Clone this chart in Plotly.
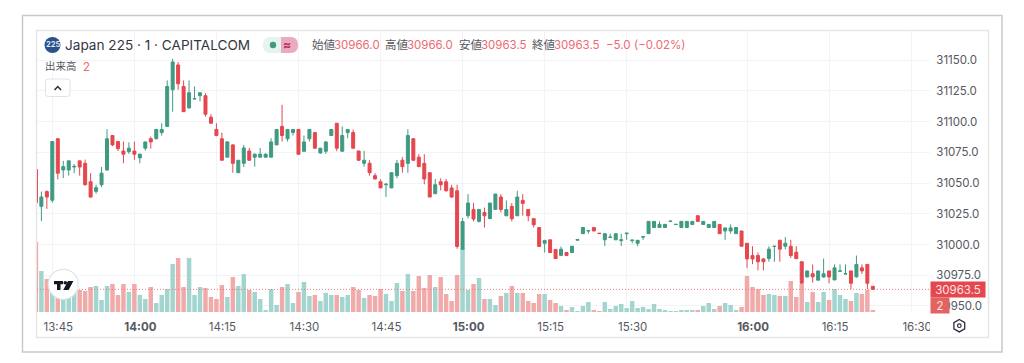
import plotly.graph_objects as go

opens = [31061,31031,31043,31036,31086,31060.6,31060.6,31063,31068,31066,
31051,31043.2,31048.6,31060.6,31088.6,31083.7,31076,31075.5,31076,31070.4,
31078.3,31086,31086,31091,31096,31125.8,31146,31128.5,31111,31118.4,
31121,31121,31103.5,31093.5,31086,31071,31081,31058.4,31066,31076,
31071,31071,31071,31071,31081,31096,31086,31091,31093.5,31075.8,
31086,31091,31074.5,31075.8,31088.6,31098.6,31075.8,31091,31091,31076,
31066,31066,31056,31051,31048.6,31046,31056,31068.5,31066,31086,
31071,31066,31058.4,31041.3,31051,31051,31046,31043.7,30996.2,31023.4,
31028.5,31018.8,31026,31021,31028.5,31038.6,31023.4,31031,31023.4,31035.9,
31028.5,31021,31013.8,31001,31003.8,30996,30991,30993.5,30993.5,31003.5,
31008.8,31011,31013.8,31009.2,31003.8,31005.8,31003.8,31003.2,31008.8,31003.2,
31001,31006,31008.8,31013.8,31013.8,31013.8,31018.7,31016.2,31013.8,31013.8,
31016.2,31023.4,31016.3,31013.8,31013.8,31016.3,31011,31011,31008.8,31011,
31001,30991,30991,30988.3,30988.6,30998.4,31003.5,30998.6,30998.6,30993.7,
30986,30973.6,30976.2,30971,30973.6,30978.5,30971.2,30978.3,30976,30978.5,
30973.7,30981,30983.8,30966]
closes = [31034,31038.6,31038.6,31083.7,31058,31063.3,31068,31063.5,31063,31048.6,
31038.6,31046.2,31058,31086,31081,31078,31073.4,31078.3,31073.4,31073.4,
31083.4,31083.4,31093.5,31093.5,31128.5,31148.4,31130.7,31108,31123.4,31118.6,
31123.4,31106,31098.6,31088.6,31068.5,31083.4,31066,31068.5,31078.5,31068.5,
31073.4,31073.4,31073.4,31083.4,31093.5,31088.6,31093.5,31093.5,31073.4,31083.4,
31093.5,31078.3,31078.3,31083.4,31093.5,31078.3,31088.6,31093.5,31078.3,31068.5,
31068.5,31058.4,31053.3,31046,31049,31058.4,31066,31063.3,31088.6,31068.5,
31063.3,31053.3,31038.6,31048.6,31048.6,31043.7,31038.6,30998.4,31018.7,31033.7,
31020.7,31028.5,31023.4,31033.7,31041,31028.5,31028.5,31021,31038.6,31033.4,
31023.4,31016,30998.4,31003.2,30993.5,30988.6,30996.2,30991,30998.6,31004,
31013.8,31011.3,31011,31008.9,31008.8,31006,31008.8,31003.8,31009.2,31003.6,
31003.4,31006.3,31018.8,31018.8,31016.4,31016.4,31019,31016.4,31018.8,31018.8,
31018.8,31018.8,31018.8,31016.3,31018.8,31008.8,31013.5,31013.5,31013.8,30998.6,
30988.3,30988.3,30986,30986,30996.2,30998.6,30996.2,31001,30991,30988.6,
30968.5,30978.5,30973.7,30978.5,30976.2,30973.6,30981,30978.5,30976.2,30968.5,
30983.8,30978.5,30968.5,30963.5]
highs = [31061,31043,31044,31083.7,31086,31068,31068.2,31065.5,31068,31069,
31058,31048.6,31063,31093.7,31089,31084,31083.7,31083,31083.7,31074,
31083.5,31087.8,31094,31098.6,31133.4,31151,31148.4,31133.4,31133.4,31128.5,
31123.5,31123,31106,31098.6,31091,31084,31081.5,31068.6,31081,31078.5,
31074,31078.5,31074,31086.4,31094,31113.6,31094,31094,31094,31088.6,
31094,31091.5,31078.5,31084,31094,31098.7,31096,31094,31093.5,31076.2,
31076,31068.5,31058,31053,31050,31058.5,31068.7,31071,31093.7,31086.4,
31073.4,31073.4,31058.5,31053.3,31053.8,31053.3,31048.6,31048.6,31021.5,31041,
31033.7,31028.6,31030,31033.8,31041.1,31041,31035.9,31033.7,31043.7,31041,
31028.6,31021,31013.9,31003.8,31003.9,30996.1,30998.4,30993.6,30998.7,31004.1,
31013.9,31011.5,31013.9,31009.3,31008.9,31008.8,31008.9,31008.8,31009.3,31003.7,
31003.5,31006.4,31018.9,31018.9,31018.8,31016.5,31019.1,31016.5,31018.9,31018.9,
31018.9,31023.5,31018.9,31016.4,31018.9,31016.4,31013.6,31016.3,31013.9,31011.1,
31001.1,30998.6,30993.5,30988.5,30998.6,30998.7,31003.6,31006,31003.8,30998.6,
30986.1,30978.6,30983.8,30978.6,30988.6,30978.6,30983.8,30983.8,30983.8,30978.6,
30991,30983.8,30983.9,30966]
lows = [31034,31019,31029,31034,31053,31054,31056,31058,31056,31048,
31038,31041.3,31046.7,31060,31080,31076,31066,31073.6,31068.8,31066,
31076.4,31078,31085.5,31088.6,31096,31108,31125.8,31108,31110.9,31118,
31116.3,31104,31098.6,31088,31068.5,31071,31058.4,31058,31063,31068,
31063.3,31071,31071,31071,31081,31083.7,31083.7,31088.6,31073,31075.5,
31083.7,31078,31073.6,31073.6,31088.5,31075.8,31075.5,31086.4,31078,31068,
31063.3,31056,31053,31046,31038.6,31046,31053.8,31058.4,31058.4,31068,
31063,31048.9,31038.6,31041,31044,31043,31038,30996.5,30996,31021.2,
31018.8,31018,31013.8,31020.9,31028.4,31026,31023,31018.8,31023,31023.4,
31018.8,31013.8,30998.3,30993.5,30993.4,30988.5,30991,30990.9,30993.4,31003.4,
31008.7,31008.8,31010.9,31008.8,30998.8,31005.7,31003.7,30998.8,31003.8,31001,
30998.6,31003.8,31008.7,31013.7,31013.7,31013.7,31018.6,31016.1,31013.7,31013.7,
31016.1,31018.7,31016.2,31013.7,31013.7,31008.7,31003.8,31008.8,31008.7,30998.5,
30981,30984,30979,30979,30986,30986,30986,30996,30989,30988,
30968.4,30973.5,30969,30970.9,30973,30968.5,30971,30978,30975.8,30963.6,
30973,30976,30963.6,30963.5]
volumes = [70,41,33,29,20,20,17,24,22,21,
25,26,12,26,28,17,28,20,28,17,
13,25,9,17,23,48,54,25,54,17,
25,24,15,13,27,15,35,26,38,22,
20,13,2,23,7,25,28,9,20,30,
16,17,11,19,17,17,15,17,25,22,
14,17,16,23,18,11,29,21,38,21,
36,24,37,25,35,18,11,37,64,22,
28,34,13,13,7,16,19,26,19,19,
11,9,18,18,12,9,6,2,5,1,
6,10,2,1,10,3,6,8,4,11,
4,5,3,8,3,2,1,1,2,2,
2,2,6,9,3,6,9,7,2,5,
36,25,23,17,18,17,16,16,31,15,
28,10,20,10,20,12,23,17,13,11,
19,18,22,2]
tick_positions = [3,18,33,48,63,78,93,108,130,145,160]
tick_labels = ["13:45","<b>14:00</b>","14:15","14:30","14:45","<b>15:00</b>","15:15","15:30","<b>16:00</b>","16:15","16:30"]
price_ticks = [30950,30975,31000,31025,31050,31075,31100,31125,31150]
last_price = 30963.5

UP, DOWN = "#3f9a82", "#e5474f"
UP_V, DOWN_V = "#a3d5cf", "#f0aaaa"
FONT = "Inter, 'Noto Sans CJK JP', sans-serif"
GRID = "#f2f3f6"
L, R, T, B = 37, 930, 31, 313
W, H = R - L, B - T
def px(x): return (x - L) / W
def py(y): return (B - y) / H

xs = list(range(len(opens)))
vol_colors = [UP_V if c >= o else DOWN_V for o, c in zip(opens, closes)]

fig = go.Figure()
fig.add_trace(go.Bar(x=xs, y=volumes, marker=dict(color=vol_colors, line_width=0), yaxis="y", showlegend=False))
fig.add_trace(go.Candlestick(x=xs, open=opens, high=highs, low=lows, close=closes, yaxis="y2", whiskerwidth=0,
    increasing=dict(line=dict(color=UP, width=1), fillcolor=UP),
    decreasing=dict(line=dict(color=DOWN, width=1), fillcolor=DOWN), showlegend=False))

def rect(x0, y0, x1, y1, **kw):
    return dict(type="rect", xref="paper", yref="paper", x0=px(x0), x1=px(x1), y0=py(y0), y1=py(y1), **kw)
def circle(cx, cy, r, **kw):
    return dict(type="circle", xref="paper", yref="paper", x0=px(cx-r), x1=px(cx+r), y0=py(cy-r), y1=py(cy+r), **kw)
def poly(pts, **kw):
    d = "M " + " L ".join(f"{px(a):.5f},{py(b):.5f}" for a, b in pts) + " Z"
    return dict(type="path", xref="paper", yref="paper", path=d, **kw)
def rounded(x0, y0, x1, y1, r, left=True, right=True, **kw):
    rl = r if left else 0
    rr = r if right else 0
    d = (f"M {px(x0+rl)},{py(y0)} L {px(x1-rr)},{py(y0)} "
         f"Q {px(x1)},{py(y0)} {px(x1)},{py(y0+rr)} L {px(x1)},{py(y1-rr)} Q {px(x1)},{py(y1)} {px(x1-rr)},{py(y1)} "
         f"L {px(x0+rl)},{py(y1)} Q {px(x0)},{py(y1)} {px(x0)},{py(y1-rl)} L {px(x0)},{py(y0+rl)} Q {px(x0)},{py(y0)} {px(x0+rl)},{py(y0)} Z")
    return dict(type="path", xref="paper", yref="paper", path=d, **kw)

NOLINE = dict(width=0)
shapes = [
    rect(22.5, 15.5, 1002, 352, line=dict(color="#c9c9c9", width=1.5), fillcolor="rgba(0,0,0,0)", layer="below"),
    rect(36.5, 30.5, 988.5, 337.5, line=dict(color="#e6e6e6", width=1.5), fillcolor="rgba(0,0,0,0)", layer="below"),
    dict(type="line", xref="paper", yref="y2", x0=0, x1=1, y0=last_price, y1=last_price,
         line=dict(color="#ee7a7e", width=1, dash="1px,2px"), layer="above"),
    rect(930, 315, 945, 336, fillcolor="white", line=NOLINE, layer="above"),
    circle(52.5, 45, 8, fillcolor="#2a5189", line=NOLINE),
    rounded(263, 37, 281, 53, 7.5, right=False, fillcolor="#e6f3ef", line=NOLINE),
    rounded(281, 37, 298, 53, 7.5, left=False, fillcolor="#ebaac0", line=NOLINE),
    circle(273, 45, 3.2, fillcolor=UP, line=NOLINE),
    rounded(45.5, 79, 70, 96.5, 3, fillcolor="white", line=dict(color="#dfe2ea", width=1)),
    dict(type="path", xref="paper", yref="paper", path=f"M {px(54.5)},{py(90)} L {px(57.8)},{py(86.5)} L {px(61)},{py(90)}",
         line=dict(color="#2a2e39", width=1.5)),
    circle(63.3, 284.3, 15, fillcolor="white", line=dict(color="#e0e3eb", width=1.2)),
    poly([(54,281),(63,281),(63,284.3),(60.5,284.3),(60.5,290),(57,290),(57,284.3),(54,284.3)], fillcolor="#131722", line=NOLINE),
    circle(65.3, 282.8, 1.8, fillcolor="#131722", line=NOLINE),
    poly([(68,281),(73.4,281),(68.6,290),(63.2,290)], fillcolor="#131722", line=NOLINE),
    poly([(959.3,319.5),(964.7,322.6),(964.7,328.8),(959.3,331.9),(953.9,328.8),(953.9,322.6)], fillcolor="white", line=dict(color="#2a2e39", width=1.3)),
    circle(959.3, 325.7, 1.8, fillcolor="white", line=dict(color="#2a2e39", width=1.2)),
]

PAD = 2.5
def label(x, y, text, color, size=11.5, anchor="left", **kw):
    return dict(xref="paper", yref="paper", x=px(x - PAD if anchor == "left" else x), y=py(y), text=text, showarrow=False, xanchor=anchor, yanchor="middle",
                font=dict(family=FONT, size=size, color=color), **kw)

GRAY, RED = "#55585f", "#ee6a70"
annotations = [
    label(52.5, 45, "<b>225</b>", "#dfe6f2", 7.5, "center"),
    label(65, 45, "Japan 225 · 1 · CAPITALCOM", "#33363f", 13.6),
    label(287, 44.5, "<b>≈</b>", "#b0305f", 12, "center"),
    label(312, 45, "始値", GRAY), label(334.5, 45, "30966.0", RED),
    label(385, 45, "高値", GRAY), label(407.5, 45, "30966.0", RED),
    label(459, 45, "安値", GRAY), label(481, 45, "30963.5", RED),
    label(532, 45, "終値", GRAY), label(554.5, 45, "30963.5", RED),
    label(606, 45, "−5.0", RED), label(634, 45, "(−0.02%)", RED),
    label(45.5, 66.7, "出来高", GRAY, 10.5), label(83, 66.7, "2", RED, 11.5),
    dict(xref="paper", yref="y2", x=px(930), y=last_price, text="30963.5", showarrow=False, xanchor="left", yanchor="middle",
         width=54, height=15, borderpad=0, bgcolor=DOWN, font=dict(family=FONT, size=11.5, color="#fbe4e4")),
    dict(xref="paper", yref="paper", x=px(930), y=py(305), text="2", showarrow=False, xanchor="left", yanchor="middle",
         width=18, height=15, borderpad=0, bgcolor="#e2635f", font=dict(family=FONT, size=11.5, color="#fbe4e4")),
]

fig.update_layout(
    width=1024, height=363, margin=dict(l=L, r=1024-R, t=T, b=363-B),
    paper_bgcolor="white", plot_bgcolor="rgba(0,0,0,0)", showlegend=False, autosize=False,
    bargap=0.18, boxgap=0.22, dragmode=False, shapes=shapes, annotations=annotations,
    font=dict(family=FONT, size=11.5, color=GRAY),
    xaxis=dict(range=[0.2, 163.45], tickmode="array", tickvals=tick_positions, ticktext=tick_labels,
               ticklabelshift=6, showgrid=True, gridcolor=GRID, gridwidth=1, zeroline=False, showline=False,
               ticks="outside", ticklen=3, tickcolor="rgba(0,0,0,0)", rangeslider=dict(visible=False),
               tickfont=dict(family=FONT, size=11.5, color=GRAY)),
    yaxis=dict(range=[-1, 281], visible=False, showgrid=False, zeroline=False, fixedrange=True),
    yaxis2=dict(range=[30944.3, 31173.6], overlaying="y", side="right", tickmode="array", tickvals=price_ticks,
                ticktext=[f"{v:.1f}" for v in price_ticks], showgrid=True, gridcolor=GRID, gridwidth=1,
                zeroline=False, showline=False, ticks="outside", ticklen=3, tickcolor="rgba(0,0,0,0)",
                tickfont=dict(family=FONT, size=11.5, color=GRAY)),
)
assert len(opens) == len(closes) == len(highs) == len(lows) == len(volumes)
fig.write_html("out.html", config={"displayModeBar": False, "responsive": False},
               post_script="document.body.style.margin='0';document.documentElement.style.overflow='hidden';")
